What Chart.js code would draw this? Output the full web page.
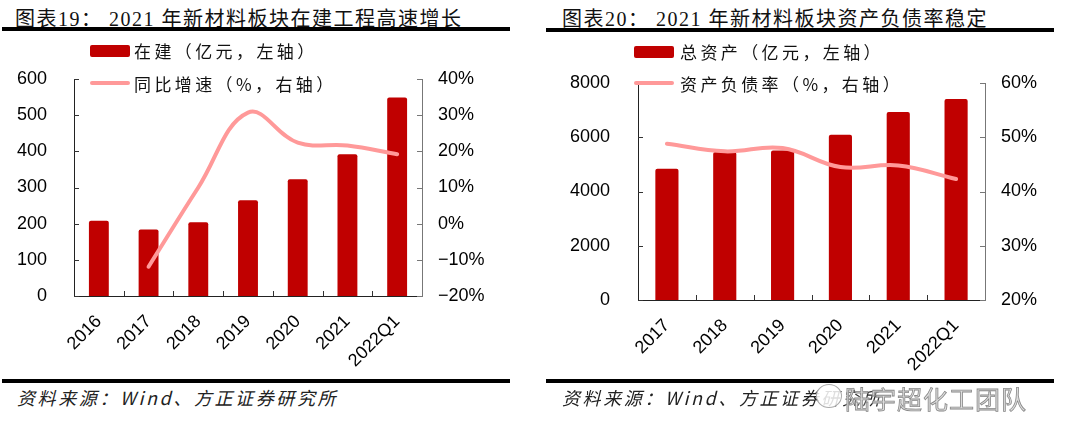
<!DOCTYPE html>
<html>
<head>
<meta charset="utf-8">
<script src="https://cdn.jsdelivr.net/npm/chart.js@4.4.0/dist/chart.umd.min.js"></script>
<style>
  body { margin: 0; width: 1070px; height: 444px; background: #fff; position: relative; overflow: hidden; }
  .abs { position: absolute; }
  .title { font-family: "Liberation Serif", "Noto Sans CJK SC", serif; font-size: 20px; letter-spacing: 1.5px; color: #111; white-space: nowrap; }
  .rule { background: #000; height: 4px; }
  .legend { font-family: "Noto Sans CJK SC", sans-serif; font-size: 17px; letter-spacing: 3.4px; color: #111; white-space: nowrap; }
  .source { font-family: "Noto Sans CJK SC", sans-serif; font-style: italic; font-size: 18px; letter-spacing: 2.6px; color: #222; white-space: nowrap; }
  .box { background: #C00000; width: 40px; height: 12px; border-radius: 2px; }
  .ln { background: #FF9999; width: 40px; height: 4px; border-radius: 2px; }
</style>
</head>
<body>
<div class="abs title" style="left:15px;top:3px;">图表19：&nbsp;2021 年新材料板块在建工程高速增长</div>
<div class="abs rule" style="left:2px;top:27px;width:508px;"></div>
<div class="abs title" style="left:562px;top:3px;">图表20：&nbsp;2021 年新材料板块资产负债率稳定</div>
<div class="abs rule" style="left:546px;top:28px;width:508px;"></div>

<canvas id="c1" class="abs" width="520" height="340" style="left:0;top:40px;"></canvas>
<canvas id="c2" class="abs" width="520" height="340" style="left:540px;top:40px;"></canvas>

<div class="abs box" style="left:90px;top:45px;"></div>
<div class="abs legend" style="left:134px;top:38px;">在建（亿元，左轴）</div>
<div class="abs ln" style="left:90px;top:81px;"></div>
<div class="abs legend" style="left:134px;top:71px;">同比增速（%，右轴）</div>

<div class="abs box" style="left:634px;top:46px;"></div>
<div class="abs legend" style="left:680px;top:39px;">总资产（亿元，左轴）</div>
<div class="abs ln" style="left:634px;top:81px;"></div>
<div class="abs legend" style="left:680px;top:71px;">资产负债率（%，右轴）</div>

<div class="abs rule" style="left:2px;top:379px;width:508px;"></div>
<div class="abs rule" style="left:546px;top:379px;width:508px;"></div>
<div class="abs source" style="left:17px;top:384px;">资料来源：Wind、方正证券研究所</div>
<div class="abs source" style="left:562px;top:384px;">资料来源：Wind、方正证券研究所</div>
<div class="abs" style="left:816px;top:384px;width:24px;height:22px;border:1.5px solid #aaa;border-radius:50%;background:rgba(255,255,255,0.85);"></div>
<div class="abs" style="left:845px;top:380px;font-family:'Noto Sans CJK SC',sans-serif;font-size:25px;letter-spacing:1px;color:#ddd;-webkit-text-stroke:0.8px #888;text-shadow:0 0 3px #fff;white-space:nowrap;">陆宇超化工团队</div>

<script>
// 图表19
const years1 = ["2016", "2017", "2018", "2019", "2020", "2021", "2022Q1"];
const cipValues = [208, 184, 204, 265, 323, 392, 549];
const cipGrowth = [null, -11.9, 10, 30.7, 22.4, 21.6, 19.2];

// 图表20
const years2 = ["2017", "2018", "2019", "2020", "2021", "2022Q1"];
const totalAssets = [4840, 5460, 5510, 6090, 6930, 7410];
const debtRatio = [48.8, 47.4, 48.0, 44.5, 44.8, 42.3];

const RED = "#C00000";
const PINK = "#FF9999";
const tickFont = {family: "Liberation Sans, Arial, sans-serif", size: 18};

// ticks pointing inwards, like the original Excel chart
const innerTicks = {
    id: "innerTicks",
    afterDraw(chart) {
        const ctx = chart.ctx;
        const area = chart.chartArea;
        const x = chart.scales.x, y = chart.scales.y, y1 = chart.scales.y1;
        ctx.save();
        ctx.lineWidth = 1;
        ctx.strokeStyle = "#333";
        ctx.beginPath();
        y.ticks.forEach(t => {
            const py = Math.round(y.getPixelForValue(t.value)) + 0.5;
            ctx.moveTo(area.left, py);
            ctx.lineTo(area.left + 5, py);
        });
        for (let i = 0; i < x.ticks.length - 1; i++) {
            const px = Math.round((x.getPixelForValue(i) + x.getPixelForValue(i + 1)) / 2) + 0.5;
            ctx.moveTo(px, area.bottom);
            ctx.lineTo(px, area.bottom - 5);
        }
        ctx.stroke();
        ctx.strokeStyle = "#777";
        ctx.beginPath();
        y1.ticks.forEach(t => {
            const py = Math.round(y1.getPixelForValue(t.value)) + 0.5;
            ctx.moveTo(area.right - 5, py);
            ctx.lineTo(area.right, py);
        });
        ctx.stroke();
        ctx.restore();
    }
};

function makeChart(id, labels, bars, line, opts) {
    return new Chart(document.getElementById(id), {
        type: "bar",
        data: {
            labels: labels,
            datasets: [{
                type: "line",
                data: line,
                yAxisID: "y1",
                borderColor: PINK,
                borderWidth: 4,
                borderCapStyle: "round",
                pointRadius: 0,
                tension: 0.4,
                order: 0
            }, {
                data: bars,
                yAxisID: "y",
                backgroundColor: RED,
                borderRadius: 2,
                borderSkipped: "bottom",
                categoryPercentage: 1,
                barPercentage: 0.4,
                order: 1
            }]
        },
        options: {
            responsive: false,
            animation: false,
            layout: {padding: {top: opts.top, left: 0, right: 0, bottom: 0}},
            plugins: {legend: {display: false}, tooltip: {enabled: false}},
            scales: {
                x: {
                    grid: {display: false, drawTicks: false},
                    border: {display: true, color: "#222", width: 1},
                    ticks: {color: "#000", font: tickFont, minRotation: 45, maxRotation: 45, padding: 15},
                    afterFit: s => { s.height = opts.xHeight; }
                },
                y: {
                    position: "left",
                    min: 0, max: opts.yMax,
                    grid: {display: false, drawTicks: false},
                    border: {display: true, color: "#222", width: 1},
                    ticks: {color: "#000", font: tickFont, stepSize: opts.yStep, padding: opts.leftPad,
                        callback: v => String(v)},
                    afterFit: s => { s.width = opts.leftWidth; }
                },
                y1: {
                    position: "right",
                    min: opts.rMin, max: opts.rMax,
                    grid: {display: false, drawTicks: false},
                    border: {display: true, color: "#777", width: 1},
                    ticks: {
                        color: "#000", font: tickFont, stepSize: 10, padding: 16,
                        callback: v => (v < 0 ? "\u2212" + Math.abs(v) : v) + "%"
                    },
                    afterFit: s => { s.width = opts.rightWidth; }
                }
            }
        },
        plugins: [innerTicks]
    });
}

makeChart("c1", years1, cipValues, cipGrowth, {
    top: 39, xHeight: 84, yMax: 600, yStep: 100, leftWidth: 74, leftPad: 27,
    rMin: -20, rMax: 40, rightWidth: 98
});

makeChart("c2", years2, totalAssets, debtRatio, {
    top: 43, xHeight: 80, yMax: 8000, yStep: 2000, leftWidth: 98, leftPad: 28,
    rMin: 20, rMax: 60, rightWidth: 75
});
</script>
</body>
</html>
